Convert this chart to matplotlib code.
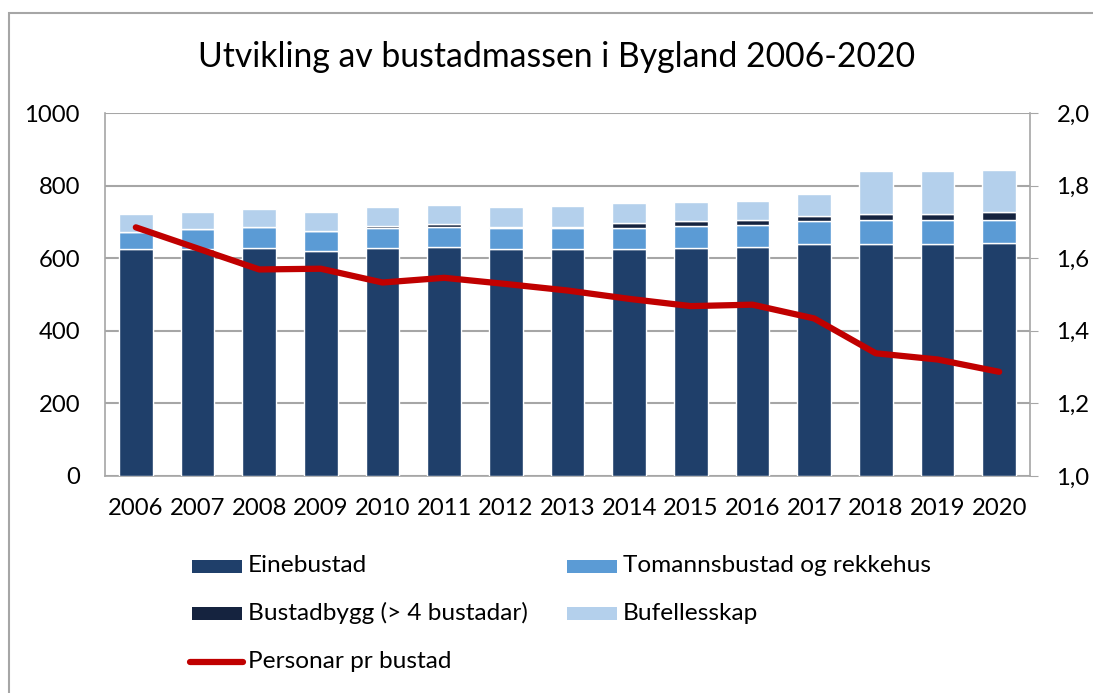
import matplotlib
matplotlib.use("Agg")
import matplotlib.pyplot as plt
import numpy as np
from matplotlib.patches import Rectangle
from matplotlib.lines import Line2D
from matplotlib.ticker import FuncFormatter

years = ["2006", "2007", "2008", "2009", "2010", "2011", "2012", "2013",
         "2014", "2015", "2016", "2017", "2018", "2019", "2020"]
einebustad = [624, 624, 627, 620, 627, 630, 624, 624, 624, 629, 630, 638, 638, 639, 641]
tomannsbustad = [49, 56, 60, 56, 57, 57, 58, 58, 58, 59, 61, 64, 66, 65, 65]
bustadbygg = [0, 0, 0, 0, 5, 6, 5, 5, 14, 15, 15, 15, 19, 19, 20]
bufellesskap = [49, 48, 49, 50, 53, 54, 55, 56, 55, 52, 52, 60, 116, 118, 117]
personar = [1.685, 1.627, 1.569, 1.571, 1.533, 1.546, 1.529, 1.511, 1.488,
            1.468, 1.472, 1.434, 1.338, 1.321, 1.287]

labels = ["Einebustad", "Tomannsbustad og rekkehus", "Bustadbygg (> 4 bustadar)",
          "Bufellesskap", "Personar pr bustad"]
colors = ["#1F3F6A", "#5B9BD5", "#15233F", "#B4D0EC"]
line_color = "#C00000"

plt.rcParams['font.family'] = ['Lato', 'DejaVu Sans']
FS = 17.2
LFS = 17.6

W, H = 1093, 693
fig = plt.figure(figsize=(W / 100, H / 100), dpi=100)

# outer chart border
fig.add_artist(Rectangle((9 / W, -0.1), 1.2, 1 + 0.1 - 13 / H, transform=fig.transFigure,
                         fill=False, edgecolor="#A6A6A6", linewidth=1.5))

ax = fig.add_axes([105 / W, 1 - 476 / H, (1030 - 105) / W, (476 - 113) / H])
x = np.arange(len(years))
width = 0.55
bottom = np.zeros(len(years))
series = [einebustad, tomannsbustad, bustadbygg, bufellesskap]
for vals, c, lab in zip(series, colors, labels[:4]):
    vals = np.array(vals, dtype=float)
    ax.bar(x, vals, width, bottom=bottom, color=c, edgecolor="white",
           linewidth=1.0, label=lab, zorder=3)
    bottom += vals

ax.set_xlim(-0.5, len(years) - 0.5)
ax.set_ylim(0, 1000)
ax.set_yticks(np.arange(0, 1001, 200))
ax.set_xticks(x)
ax.set_xticklabels(years)
ax.yaxis.grid(True, color="#A6A6A6", linewidth=1.5, zorder=0)
ax.set_axisbelow(True)
for s in ["left", "bottom"]:
    ax.spines[s].set_color("#A6A6A6")
    ax.spines[s].set_linewidth(1.2)
ax.spines["top"].set_visible(False)
ax.spines["right"].set_visible(False)
ax.tick_params(axis="y", length=0, labelsize=FS, colors="black", pad=18)
ax.tick_params(axis="x", length=0, labelsize=FS, colors="black", pad=16)

ax2 = ax.twinx()
ax2.set_ylim(1.0, 2.0)
ax2.set_yticks(np.arange(1.0, 2.01, 0.2))
ax2.yaxis.set_major_formatter(FuncFormatter(lambda v, p: f"{v:.1f}".replace(".", ",")))
ax2.plot(x, personar, color=line_color, linewidth=4.5, solid_capstyle="round", zorder=5)
for s in ["left", "top", "bottom"]:
    ax2.spines[s].set_visible(False)
ax2.spines["right"].set_color("#A6A6A6")
ax2.spines["right"].set_linewidth(1.2)
ax2.tick_params(axis="y", length=6, direction="out", color="#A6A6A6", labelsize=FS, pad=13)

fig.text(557 / W, 1 - 57 / H, "Utvikling av bustadmassen i Bygland 2006-2020",
         ha="center", va="center", fontsize=24.3)

# legend (two columns, row-wise order)
rows = [566, 613, 662]
entries = [
    (192, rows[0], "patch", colors[0], labels[0]),
    (567, rows[0], "patch", colors[1], labels[1]),
    (192, rows[1], "patch", colors[2], labels[2]),
    (567, rows[1], "patch", colors[3], labels[3]),
    (192, rows[2], "line", line_color, labels[4]),
]
for px, py, kind, col, lab in entries:
    if kind == "patch":
        fig.add_artist(Rectangle((px / W, 1 - (py + 6.5) / H), 50 / W, 13 / H,
                                 transform=fig.transFigure, facecolor=col, edgecolor="none"))
    else:
        fig.add_artist(Line2D([(px - 2) / W, (px + 51) / W], [1 - py / H, 1 - py / H],
                              transform=fig.transFigure, color=col, linewidth=4.5,
                              solid_capstyle="round"))
    fig.text((px + 56) / W, 1 - py / H, lab, ha="left", va="center", fontsize=LFS)

fig.savefig("out.png", dpi=100)
